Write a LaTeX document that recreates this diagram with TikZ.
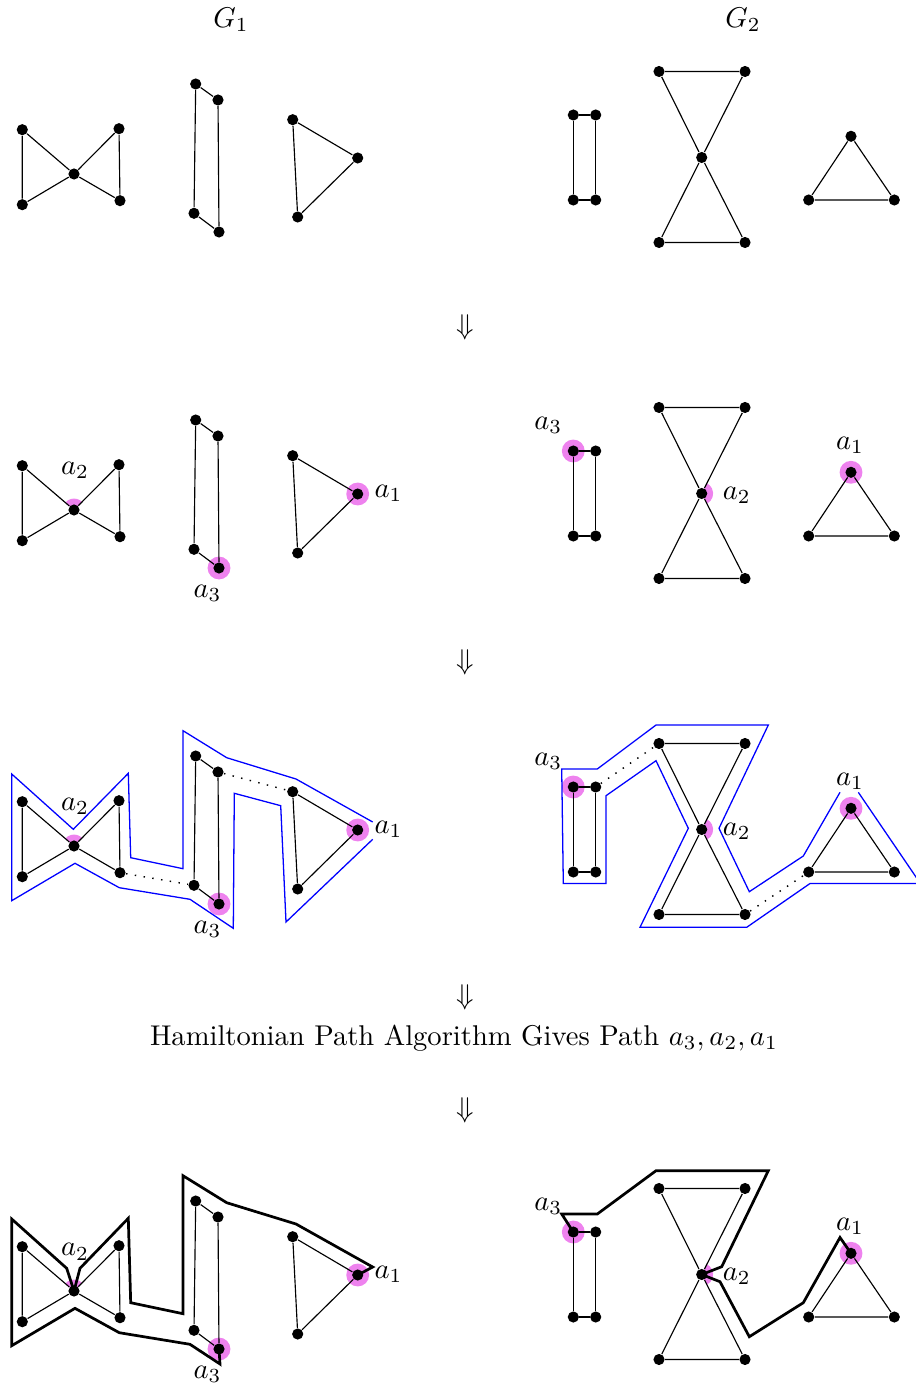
\documentclass[tikz,border=0pt]{standalone}
\usepackage{amsmath}
\usetikzlibrary{backgrounds}
\definecolor{hl}{HTML}{EE82EE}
\tikzset{
  dot/.style={circle,fill=black,inner sep=0pt,minimum size=3.9pt},
  edge/.style={line width=0.4pt},
  bluepath/.style={blue,line width=0.45pt,line join=miter},
  hampath/.style={black,line width=0.95pt,line join=miter},
  lbl/.style={font=\fontsize{10}{12}\selectfont,inner sep=0pt},
  dotline/.style={line width=0.5pt,dash pattern=on 0.5pt off 2.6pt}
}
\newcommand{\GNodes}[2]{%
  \node[dot] (#1b1) at (22.3,-129.7) {};
  \node[dot] (#1b2) at (22.3,-204.7) {};
  \node[dot] (#1bc) at (74,-174) {};
  \node[dot] (#1b3) at (119,-128.7) {};
  \node[dot] (#1b4) at (120,-200.7) {};
  \node[dot] (#1r1) at (195.7,-84) {};
  \node[dot] (#1r2) at (218,-100) {};
  \node[dot] (#1r3) at (194,-213.3) {};
  \node[dot] (#1r4) at (219,-232) {};
  \node[dot] (#1t1) at (292.7,-119.7) {};
  \node[dot] (#1t2) at (357.7,-158) {};
  \node[dot] (#1t3) at (297.7,-217) {};
  \node[dot] (#2s1) at (573.3,-115) {};
  \node[dot] (#2s2) at (595.7,-115) {};
  \node[dot] (#2s3) at (573.3,-200) {};
  \node[dot] (#2s4) at (595.7,-200) {};
  \node[dot] (#2h1) at (659,-71.5) {};
  \node[dot] (#2h2) at (745,-71.5) {};
  \node[dot] (#2hc) at (701.7,-157.5) {};
  \node[dot] (#2h3) at (659,-242.5) {};
  \node[dot] (#2h4) at (745,-242.5) {};
  \node[dot] (#2u1) at (851,-136.3) {};
  \node[dot] (#2u2) at (808.7,-200) {};
  \node[dot] (#2u3) at (894.3,-200) {};
  \draw[edge] (#1b1)--(#1b2) (#1b2)--(#1bc) (#1bc)--(#1b1)
              (#1bc)--(#1b3) (#1b3)--(#1b4) (#1b4)--(#1bc);
  \draw[edge] (#1r1)--(#1r2) (#1r2)--(#1r4) (#1r4)--(#1r3) (#1r3)--(#1r1);
  \draw[edge] (#1t1)--(#1t2) (#1t2)--(#1t3) (#1t3)--(#1t1);
  \draw[edge] (#2s1)--(#2s2) (#2s2)--(#2s4) (#2s4)--(#2s3) (#2s3)--(#2s1);
  \draw[edge] (#2h1)--(#2h2) (#2h1)--(#2hc) (#2hc)--(#2h4) (#2h2)--(#2hc)
              (#2hc)--(#2h3) (#2h3)--(#2h4);
  \draw[edge] (#2u1)--(#2u2) (#2u2)--(#2u3) (#2u3)--(#2u1);
}
\newcommand{\GMarks}[2]{%
  \begin{pgfonlayer}{background}
    \fill[hl] (#1r4.center) circle[radius=4pt];
    \fill[hl] (#1t2.center) circle[radius=4pt];
    \fill[hl] (#1bc.center) -- ++(45:4pt) arc[start angle=45,end angle=139.4,radius=4pt] -- cycle;
    \fill[hl] (#2s1.center) circle[radius=4pt];
    \fill[hl] (#2u1.center) circle[radius=4pt];
    \fill[hl] (#2hc.center) -- ++(-63.3:4pt) arc[start angle=-63.3,end angle=63.3,radius=4pt] -- cycle;
  \end{pgfonlayer}
  \node[lbl] (#1la2) at (75,-134.7) {$a_2$};
  \node[lbl] (#1la3) at (207.5,-257.3) {$a_3$};
  \node[lbl] (#1la1) at (388.5,-157.5) {$a_1$};
  \node[lbl] (#2la3) at (548.3,-89) {$a_3$};
  \node[lbl] (#2la2) at (736.7,-159) {$a_2$};
  \node[lbl] (#2la1) at (850,-109) {$a_1$};
}
\begin{document}
\begin{tikzpicture}[x=0.35pt,y=0.35pt]
\useasboundingbox (0,0) rectangle (915,-1387);
% titles
\node[lbl] (g1) at (231,-20) {$G_1$};
\node[lbl] (g2) at (743,-20) {$G_2$};
% panel 1
\begin{scope}
  \GNodes{pa}{qa}
\end{scope}
\node[lbl] (arr1) at (465,-327) {$\Downarrow$};
% panel 2
\begin{scope}[shift={(0,-336)}]
  \GNodes{pb}{qb}
  \GMarks{pb}{qb}
\end{scope}
\node[lbl] (arr2) at (465,-662) {$\Downarrow$};
% panel 3
\begin{scope}[shift={(0,-672)}]
  \GNodes{pc}{qc}
  \GMarks{pc}{qc}
  \draw[dotline] (pcb4)--(pcr3) (pcr2)--(pct1);
  \draw[dotline] (qcs2)--(qch1) (qch4)--(qcu2);
  \draw[bluepath] (372.7,-167.3) -- (286,-250) -- (280.7,-133.7) -- (234.3,-121.3)
     -- (233.3,-256.3) -- (190,-227.3) -- (119.3,-215.7) -- (75,-191.3)
     -- (11.7,-228.7) -- (11.7,-102) -- (73.3,-157.3) -- (128.3,-101.3)
     -- (130.7,-185.7) -- (183,-196.7) -- (183,-58.7) -- (226.7,-85.7)
     -- (296,-107) -- (372.7,-150);
  \draw[bluepath] (840,-120.3) -- (803.3,-184) -- (749.3,-219.7) -- (719,-156.3)
     -- (768.3,-53) -- (656,-53) -- (597.3,-97) -- (561.7,-97) -- (563.3,-211.5)
     -- (606,-211.5) -- (606,-123.7) -- (656,-88.7) -- (688.3,-156.3)
     -- (640,-255.3) -- (746.7,-255.3) -- (810,-211.5) -- (920.4,-211.5)
     -- (858.3,-120.3);
\end{scope}
\node[lbl] (arr3) at (465,-997) {$\Downarrow$};
\node[lbl] (txt) at (464,-1038) {Hamiltonian Path Algorithm Gives Path $a_3, a_2, a_1$};
\node[lbl] (arr4) at (465,-1110) {$\Downarrow$};
% panel 4
\begin{scope}[shift={(0,-1117)}]
  \GNodes{pd}{qd}
  \GMarks{pd}{qd}
  \draw[hampath] (pdt2.center) -- (372.7,-150) -- (296,-107) -- (226.7,-85.7)
     -- (183,-58.7) -- (183,-196.7) -- (130.7,-185.7) -- (128.3,-101.3)
     -- (80,-151.3) -- (pdbc.center) -- (66.7,-151.3) -- (11.7,-102)
     -- (11.7,-228.7) -- (75,-191.3) -- (119.3,-215.7) -- (190,-227.3)
     -- (220,-247) -- (pdr4.center);
  \draw[hampath] (qds1.center) -- (561.7,-97) -- (597.3,-97) -- (656,-53.7)
     -- (768.3,-53.7) -- (721.7,-149.7) -- (qdhc.center) -- (720,-164.7)
     -- (749.3,-219.7) -- (803.3,-185.7) -- (840,-120.5) -- (qdu1.center);
\end{scope}
\end{tikzpicture}
\end{document}
